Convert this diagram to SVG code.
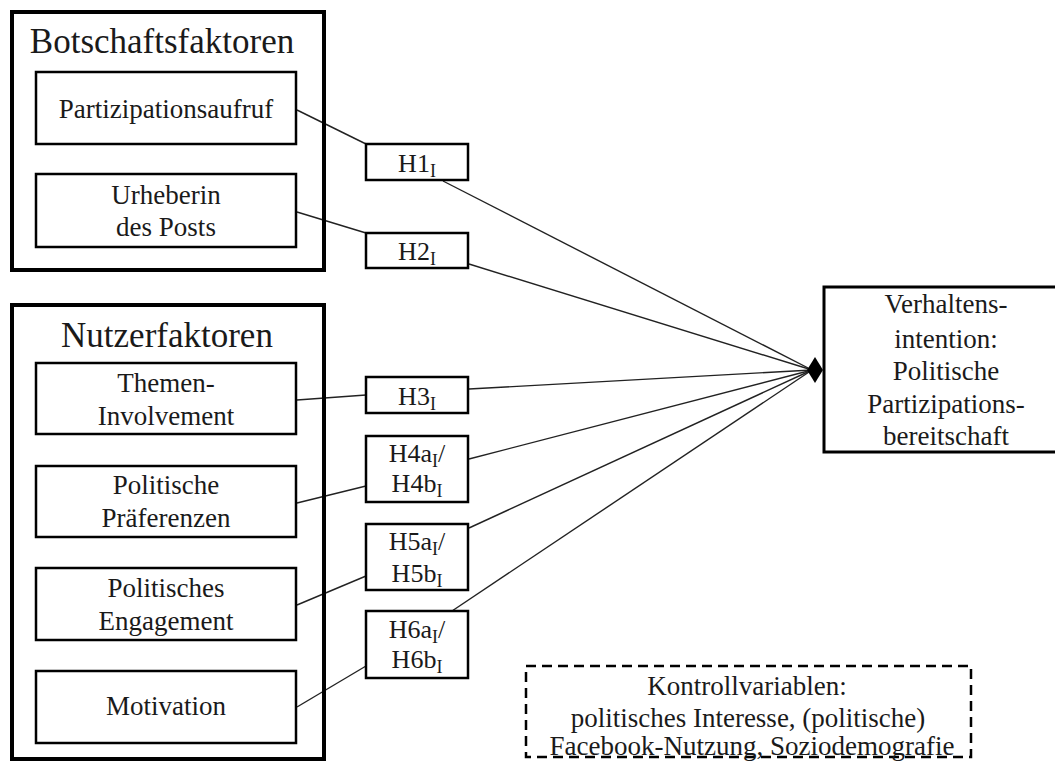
<svg xmlns="http://www.w3.org/2000/svg" width="1055" height="762" viewBox="0 0 1055 762">
<style>
.outer{fill:none;stroke:#000;stroke-width:4}
.box{fill:#fff;stroke:#000;stroke-width:2.5}
.hbox{fill:#fff;stroke:#000;stroke-width:2.5}
.dash{fill:none;stroke:#000;stroke-width:2.5;stroke-dasharray:10 6}
.t{font-family:"Liberation Serif","Times New Roman",serif;font-size:27px;fill:#1a1a1a;text-anchor:middle}
.title{font-family:"Liberation Serif","Times New Roman",serif;font-size:35px;fill:#1a1a1a;text-anchor:middle}
.h{font-family:"Liberation Serif","Times New Roman",serif;font-size:26px;fill:#1a1a1a;text-anchor:middle}
.sub{font-size:18px}
.ln{stroke:#222;stroke-width:1.4;fill:none}
</style>
<rect width="1055" height="762" fill="#fff"/>
<g id="connectors">
<line class="ln" x1="297" y1="110" x2="366" y2="144"/>
<line class="ln" x1="443" y1="181" x2="812" y2="370"/>
<line class="ln" x1="297" y1="212" x2="366" y2="233"/>
<line class="ln" x1="469" y1="264" x2="812" y2="370"/>
<line class="ln" x1="297" y1="400" x2="366" y2="395"/>
<line class="ln" x1="469" y1="389" x2="812" y2="370"/>
<line class="ln" x1="297" y1="503" x2="366" y2="486"/>
<line class="ln" x1="469" y1="459" x2="812" y2="370"/>
<line class="ln" x1="297" y1="605" x2="366" y2="576"/>
<line class="ln" x1="469" y1="528" x2="812" y2="370"/>
<line class="ln" x1="297" y1="707" x2="366" y2="666"/>
<line class="ln" x1="452" y1="611" x2="812" y2="370"/>
<polygon points="807,370 815,357 823,370 815,383" fill="#000"/>
</g>
<g id="botschaftsfaktoren">
<rect class="outer" x="12" y="12" width="312" height="258"/>
<text class="title" x="162" y="53">Botschaftsfaktoren</text>
</g>
<g id="partizipationsaufruf">
<rect class="box" x="36" y="72" width="260" height="72"/>
<text class="t" x="166" y="118">Partizipationsaufruf</text>
</g>
<g id="urheberin">
<rect class="box" x="36" y="174" width="260" height="73"/>
<text class="t" x="166" y="204">Urheberin</text>
<text class="t" x="166" y="236">des Posts</text>
</g>
<g id="nutzerfaktoren">
<rect class="outer" x="12" y="305" width="312" height="454"/>
<text class="title" x="167" y="347">Nutzerfaktoren</text>
</g>
<g id="themen">
<rect class="box" x="36" y="363" width="260" height="71"/>
<text class="t" x="166" y="392">Themen-</text>
<text class="t" x="166" y="425">Involvement</text>
</g>
<g id="praeferenzen">
<rect class="box" x="36" y="466" width="260" height="71"/>
<text class="t" x="166" y="494">Politische</text>
<text class="t" x="166" y="527">Präferenzen</text>
</g>
<g id="engagement">
<rect class="box" x="36" y="568" width="260" height="72"/>
<text class="t" x="166" y="597">Politisches</text>
<text class="t" x="166" y="630">Engagement</text>
</g>
<g id="motivation">
<rect class="box" x="36" y="671" width="260" height="72"/>
<text class="t" x="166" y="715">Motivation</text>
</g>
<g id="h1">
<rect class="hbox" x="366" y="144" width="102" height="36"/>
<text class="h" x="417" y="172">H1<tspan class="sub" dy="5">I</tspan></text>
</g>
<g id="h2">
<rect class="hbox" x="366" y="233" width="102" height="35"/>
<text class="h" x="417" y="260">H2<tspan class="sub" dy="5">I</tspan></text>
</g>
<g id="h3">
<rect class="hbox" x="366" y="377" width="102" height="36"/>
<text class="h" x="417" y="405">H3<tspan class="sub" dy="5">I</tspan></text>
</g>
<g id="h4">
<rect class="hbox" x="366" y="436" width="102" height="66"/>
<text class="h" x="417" y="462">H4a<tspan class="sub" dy="5">I</tspan><tspan dy="-5">/</tspan></text>
<text class="h" x="417" y="492">H4b<tspan class="sub" dy="5">I</tspan></text>
</g>
<g id="h5">
<rect class="hbox" x="366" y="524" width="102" height="66"/>
<text class="h" x="417" y="550">H5a<tspan class="sub" dy="5">I</tspan><tspan dy="-5">/</tspan></text>
<text class="h" x="417" y="582">H5b<tspan class="sub" dy="5">I</tspan></text>
</g>
<g id="h6">
<rect class="hbox" x="366" y="611" width="102" height="67"/>
<text class="h" x="417" y="638">H6a<tspan class="sub" dy="5">I</tspan><tspan dy="-5">/</tspan></text>
<text class="h" x="417" y="668">H6b<tspan class="sub" dy="5">I</tspan></text>
</g>
<g id="verhaltensintention">
<rect class="box" x="824" y="287" width="250" height="165" style="stroke-width:3"/>
<text class="t" x="946" y="313">Verhaltens-</text>
<text class="t" x="946" y="348">intention:</text>
<text class="t" x="946" y="380">Politische</text>
<text class="t" x="946" y="413">Partizipations-</text>
<text class="t" x="946" y="445">bereitschaft</text>
</g>
<g id="kontrollvariablen">
<rect class="dash" x="526" y="666" width="445" height="91"/>
<text class="t" x="747" y="695">Kontrollvariablen:</text>
<text class="t" x="748" y="727">politisches Interesse, (politische)</text>
<text class="t" x="752" y="755">Facebook-Nutzung, Soziodemografie</text>
</g>
</svg>
